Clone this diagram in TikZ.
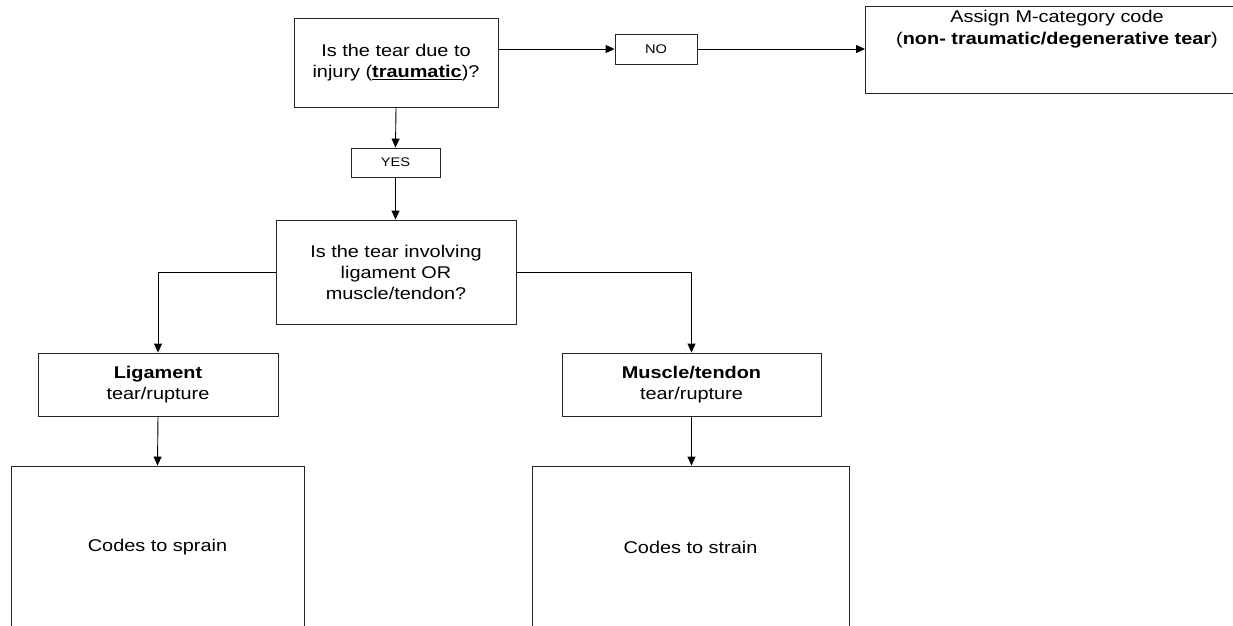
\documentclass[tikz,border=0pt]{standalone}
\usepackage{fontspec}
\setmainfont{Liberation Sans}[FakeStretch=1.17]
\usetikzlibrary{arrows.meta}
\begin{document}
\begin{tikzpicture}[x=1pt,y=-1pt,
  box/.style={draw=black!85,line width=0.9pt,rectangle,inner sep=0pt,align=center,
    font=\fontsize{17}{21}\selectfont},
  tag/.style={draw=black!85,line width=0.9pt,rectangle,inner sep=0pt,align=center,
    font=\fontsize{12.5}{15}\selectfont},
  txt/.style={inner sep=0pt,align=center,font=\fontsize{17}{22}\selectfont},
  arr/.style={draw=black,line width=0.9pt,-{Triangle[length=9pt,width=8pt]}},
  ln/.style={draw=black,line width=0.9pt}]
\useasboundingbox (0,0) rectangle (1233,625);
\clip (0,0) rectangle (1233,625);
\fill[white] (0,0) rectangle (1233,625);
\node[box,minimum width=204pt,minimum height=89pt] (q1) at (396,62.5) {Is the tear due to\\injury (\underline{\textbf{traumatic}})?};
\node[tag,minimum width=82pt,minimum height=30pt] (no) at (656,49) {NO};
\node[box,minimum width=380pt,minimum height=87pt,anchor=north west] (assign) at (865,6) {};
\node[txt,anchor=north] (assigntxt) at (1057,10) {Assign M-category code\\(\textbf{non- traumatic/degenerative tear})};
\node[tag,minimum width=89pt,minimum height=29pt] (yes) at (395.5,162.5) {YES};
\node[box,minimum width=240pt,minimum height=104pt] (q2) at (396,272) {Is the tear involving\\ligament OR\\muscle/tendon?};
\node[box,minimum width=240pt,minimum height=63pt] (lig) at (158,384.5) {\textbf{Ligament}\\tear/rupture};
\node[box,minimum width=259pt,minimum height=63pt] (mus) at (691.5,384.5) {\textbf{Muscle/tendon}\\tear/rupture};
\node[box,minimum width=293pt,minimum height=162pt] (sprain) at (157.5,547) {Codes to sprain};
\node[box,minimum width=317pt,minimum height=162pt] (strain) at (690.5,547) {Codes to strain};
\draw[arr] (no.west -| q1.east) -- (no.west);
\draw[arr] (no.east) -- (no.east -| assign.west);
\draw[arr] (q1.south) -- (yes.north);
\draw[arr] (yes.south) -- (yes.south |- q2.north);
\draw[arr] (q2.west) -| (lig.north);
\draw[arr] (q2.east) -| (mus.north);
\draw[arr] (lig.south) -- (sprain.north);
\draw[arr] (mus.south) -- (mus.south |- strain.north);
\end{tikzpicture}
\end{document}
